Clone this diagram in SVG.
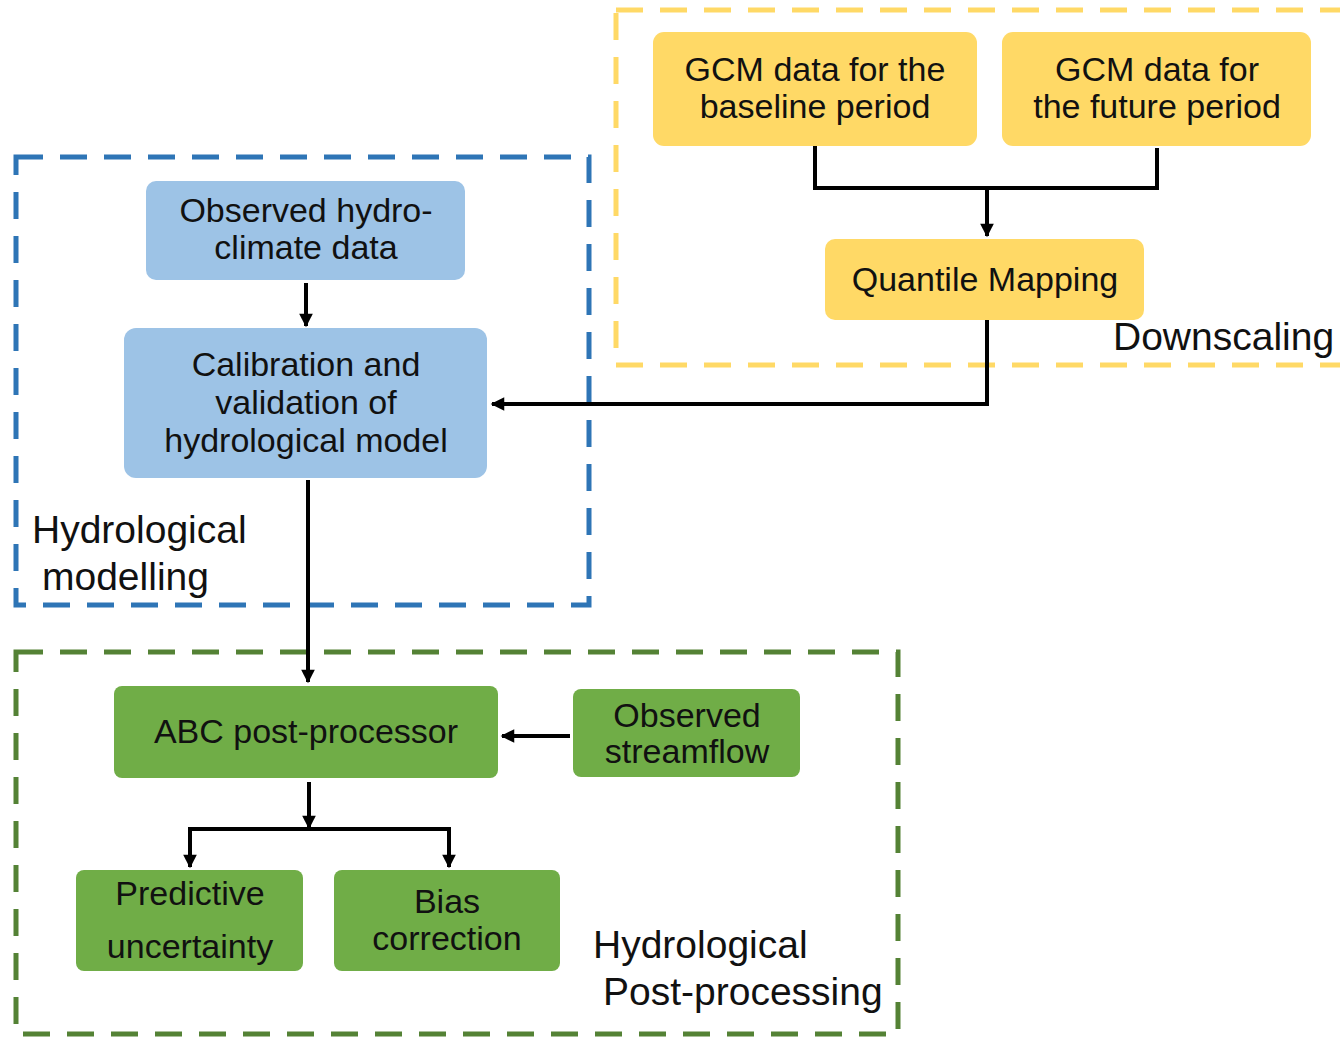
<svg xmlns="http://www.w3.org/2000/svg" width="1340" height="1038" viewBox="0 0 1340 1038">
<defs>
<marker id="ah" viewBox="0 0 10 10" refX="9" refY="5" markerWidth="4" markerHeight="3.4" orient="auto" markerUnits="strokeWidth">
<path d="M0,0 L10,5 L0,10 z" fill="#000"/>
</marker>
</defs>
<style>
text{font-family:"Liberation Sans",Arial,sans-serif;fill:#111;}
.t{font-size:34px;text-anchor:middle;}
.lab{font-size:39px;}
.frame{fill:none;stroke-width:5;stroke-dasharray:27 17;}
.y{fill:#FFD966;}
.b{fill:#9DC3E6;}
.g{fill:#70AD47;}
.c{fill:none;stroke:#000;stroke-width:4;}
</style>
<rect width="1340" height="1038" fill="#fff"/>
<g id="frames">
<rect id="downscaling-frame" class="frame" x="616" y="10" width="760" height="355" stroke="#FFD966"/>
<rect id="modelling-frame" class="frame" x="16" y="157" width="573" height="448" stroke="#2E75B6"/>
<rect id="postproc-frame" class="frame" x="16" y="652" width="882" height="382" stroke="#548235"/>
<text class="lab" x="1113" y="350">Downscaling</text>
<text class="lab" x="32" y="543">Hydrological</text>
<text class="lab" x="42" y="590">modelling</text>
<text class="lab" x="593" y="958">Hydrological</text>
<text class="lab" x="603" y="1005">Post-processing</text>
</g>
<g id="connectors">
<path class="c" d="M815,146 V188 H1157 V148"/>
<path class="c" d="M987,188 V236" marker-end="url(#ah)"/>
<path class="c" d="M987,320 V404 H492" marker-end="url(#ah)"/>
<path class="c" d="M306,283 V326" marker-end="url(#ah)"/>
<path class="c" d="M308,480 V682" marker-end="url(#ah)"/>
<path class="c" d="M570,736 H502" marker-end="url(#ah)"/>
<path class="c" d="M309,782 V828" marker-end="url(#ah)"/>
<path class="c" d="M309,829 H190 V867" marker-end="url(#ah)"/>
<path class="c" d="M309,829 H449 V867" marker-end="url(#ah)"/>
</g>
<g id="gcm-baseline">
<rect class="y" x="653" y="32" width="324" height="114" rx="11"/>
<text class="t" x="815" y="81">GCM data for the</text>
<text class="t" x="815" y="118">baseline period</text>
</g>
<g id="gcm-future">
<rect class="y" x="1002" y="32" width="309" height="114" rx="11"/>
<text class="t" x="1157" y="81">GCM data for</text>
<text class="t" x="1157" y="118">the future period</text>
</g>
<g id="quantile-mapping">
<rect class="y" x="825" y="239" width="319" height="81" rx="10"/>
<text class="t" x="985" y="291">Quantile Mapping</text>
</g>
<g id="observed-hydroclimate">
<rect class="b" x="146" y="181" width="319" height="99" rx="10"/>
<text class="t" x="306" y="222">Observed hydro-</text>
<text class="t" x="306" y="259">climate data</text>
</g>
<g id="calibration">
<rect class="b" x="124" y="328" width="363" height="150" rx="12"/>
<text class="t" x="306" y="376">Calibration and</text>
<text class="t" x="306" y="414">validation of</text>
<text class="t" x="306" y="452">hydrological model</text>
</g>
<g id="abc">
<rect class="g" x="114" y="686" width="384" height="92" rx="8"/>
<text class="t" x="306" y="743">ABC post-processor</text>
</g>
<g id="observed-streamflow">
<rect class="g" x="573" y="689" width="227" height="88" rx="8"/>
<text class="t" x="687" y="727">Observed</text>
<text class="t" x="687" y="763">streamflow</text>
</g>
<g id="predictive">
<rect class="g" x="76" y="870" width="227" height="101" rx="8"/>
<text class="t" x="190" y="905">Predictive</text>
<text class="t" x="190" y="958">uncertainty</text>
</g>
<g id="bias">
<rect class="g" x="334" y="870" width="226" height="101" rx="8"/>
<text class="t" x="447" y="913">Bias</text>
<text class="t" x="447" y="950">correction</text>
</g>
</svg>
